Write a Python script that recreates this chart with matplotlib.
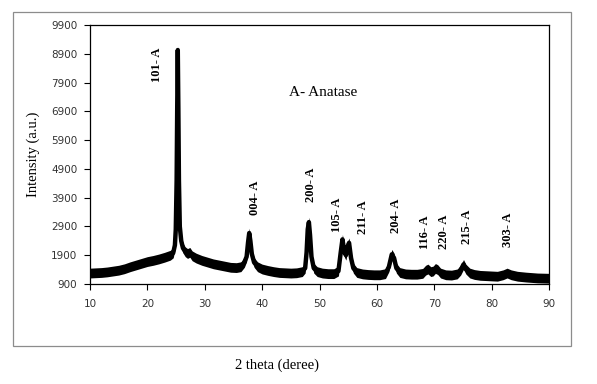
import numpy as np
import matplotlib.pyplot as plt
from matplotlib.patches import Rectangle

# XRD pattern, centre of the noisy trace
two_theta = [10, 11, 12, 13, 14, 15, 16, 17, 18, 19, 20, 21, 22, 23, 24, 24.5, 24.8,
             24.95, 25.1, 25.2, 25.3, 25.4, 25.5, 25.65, 25.9, 26.2, 26.6, 27.0,
             27.4, 27.8, 28.5, 29.5, 30.5, 31.5, 32.5, 33.5, 34.5, 35.5, 36.3,
             36.9, 37.3, 37.55, 37.75, 37.95, 38.2, 38.6, 39.2, 40, 41, 42, 43, 44,
             45, 46, 47, 47.5, 47.75, 47.95, 48.15, 48.35, 48.6, 49.0, 49.6, 50.5,
             51.5, 52.5, 53.3, 53.7, 54.0, 54.35, 54.6, 54.9, 55.15, 55.5, 55.9,
             56.5, 57.5, 58.5, 59.5, 60.5, 61.5, 62.1, 62.6, 63.0, 63.4, 64.0, 65,
             66, 67, 68.0, 68.5, 68.9, 69.4, 69.8, 70.2, 70.6, 71.1, 72, 73, 74.0,
             74.6, 75.1, 75.5, 76.2, 77, 78, 79, 80, 81, 82.0, 82.7, 83.4, 84.5,
             86, 88, 90]
intensity = [1280, 1290, 1300, 1320, 1350, 1380, 1430, 1500, 1560, 1620, 1680, 1720,
             1770, 1830, 1900, 1980, 2250, 2800, 4500, 7000, 9030, 7000, 4500, 2900,
             2400, 2150, 2020, 1960, 2000, 1880, 1800, 1720, 1660, 1600, 1560, 1520,
             1480, 1470, 1500, 1650, 1850, 2350, 2670, 2400, 1950, 1650, 1500, 1420,
             1370, 1330, 1300, 1290, 1280, 1290, 1330, 1450, 2000, 2800, 3050, 2600,
             1850, 1450, 1330, 1280, 1260, 1260, 1350, 2000, 2450, 2000, 1900, 2200,
             2330, 1800, 1450, 1300, 1250, 1230, 1220, 1220, 1260, 1500, 1930, 1800,
             1450, 1300, 1250, 1240, 1240, 1270, 1380, 1420, 1330, 1350, 1440, 1400,
             1280, 1220, 1210, 1250, 1380, 1580, 1420, 1280, 1230, 1200, 1190, 1180,
             1170, 1220, 1280, 1220, 1170, 1140, 1110, 1100]

peak_labels = ["101- A", "004- A", "200- A", "105- A", "211- A",
               "204- A", "116- A", "220- A", "215- A", "303- A"]
label_x = [21.7, 38.7, 48.5, 53.0, 57.6, 63.3, 68.4, 71.7, 75.7, 82.8]
label_y = [8500, 3890, 4340, 3300, 3230, 3260, 2700, 2700, 2880, 2780]

x = np.array(two_theta)
y = np.array(intensity)
band = 170  # half thickness of the noisy trace

fig = plt.figure(figsize=(5.97, 3.84), dpi=100)
fig.patch.set_facecolor('white')
fig.add_artist(Rectangle((13 / 597, 1 - 346 / 384), (571 - 13) / 597, (346 - 12) / 384,
                         transform=fig.transFigure, fill=False, edgecolor='#8c8c8c', lw=0.9))

ax = fig.add_axes([90 / 597, 1 - 284 / 384, (549 - 90) / 597, (284 - 25) / 384])
ax.fill_between(x, y - band, y + band, color='black', lw=0)
ax.plot(x, y, color='black', lw=3.2)

for s, lx, ly in zip(peak_labels, label_x, label_y):
    ax.text(lx, ly, s, rotation=90, ha='center', va='center', fontsize=9,
            fontweight='bold', family='Liberation Serif')

ax.text(50.6, 7570, "A- Anatase", ha='center', va='center', fontsize=11,
        family='Liberation Serif')

ax.set_xlim(10, 90)
ax.set_ylim(900, 9900)
ax.set_xticks(range(10, 91, 10))
ax.set_yticks(range(900, 9901, 1000))
ax.tick_params(direction='out', length=4, width=0.8, labelsize=7.5, colors='black',
               labelcolor='#333333', pad=5)
ax.tick_params(axis='x', pad=7)
for sp in ax.spines.values():
    sp.set_linewidth(0.9)
    sp.set_color('black')

ax.set_ylabel("Intensity (a.u.)", fontsize=10.5, family='Liberation Serif', labelpad=8)
fig.text(277 / 597, 1 - 365 / 384, "2 theta (deree)", ha='center', va='center',
         fontsize=10.5, family='Liberation Serif')

fig.savefig('out.png', dpi=100)
